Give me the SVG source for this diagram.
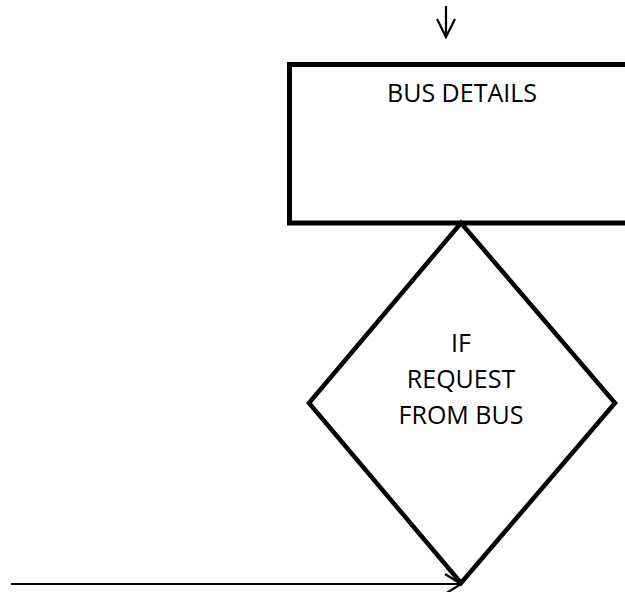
<svg xmlns="http://www.w3.org/2000/svg" width="625" height="592" viewBox="0 0 625 592">
<style>
.shape{fill:#fff;stroke:#000;}
.lbl{font-family:"Open Sans","Liberation Sans",sans-serif;font-size:25px;fill:#000;text-anchor:middle;}
.conn{stroke:#000;stroke-width:2.2;fill:none;}
</style>
<rect width="625" height="592" fill="#fff"/>
<g id="connectors">
  <path class="conn" d="M446,6 V37 M437,19 L446,37 L455,19"/>
  <path class="conn" d="M11,584 H461 M445,574 L461,584 L445,594"/>
</g>
<g id="bus-details">
  <rect class="shape" x="289.5" y="64.5" width="350" height="158.5" stroke-width="5"/>
  <text class="lbl" x="462" y="102">BUS DETAILS</text>
</g>
<g id="if-request">
  <polygon class="shape" points="461,223 615,403 461,583 309,403" stroke-width="4.5"/>
  <text class="lbl" x="461" y="352">IF</text>
  <text class="lbl" x="461" y="388">REQUEST</text>
  <text class="lbl" x="461" y="424">FROM BUS</text>
</g>
</svg>
